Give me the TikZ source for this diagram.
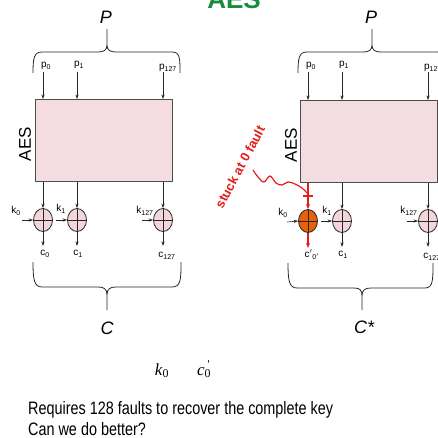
\documentclass[tikz,border=0pt]{standalone}
\usepackage{fontspec}
\setmainfont{Liberation Sans}
\newfontfamily\tms{Liberation Serif}
\newfontfamily\narrowsans[FakeStretch=0.8]{Liberation Sans}
\usetikzlibrary{shapes.geometric,arrows.meta}
\definecolor{boxpink}{RGB}{243,221,225}
\definecolor{xpink}{RGB}{242,214,219}
\definecolor{xorange}{RGB}{232,96,12}
\definecolor{fred}{RGB}{226,30,26}
\definecolor{tgreen}{RGB}{24,140,58}
\tikzset{
  arr/.style={-{Stealth[length=4.5pt,width=3.2pt]}, line width=0.6pt, draw=black!85},
  rarr/.style={-{Stealth[length=5pt,width=4pt]}, line width=1.4pt, draw=fred},
  xorc/.style={draw=black!85, ellipse, minimum width=19pt, minimum height=23pt, inner sep=0pt, fill=xpink, line width=0.8pt},
  lbl/.style={font=\fontsize{10}{12}\selectfont, inner sep=0pt},
  aesbox/.style={draw=black!70, fill=boxpink, line width=0.8pt, inner sep=0pt, minimum width=137pt, minimum height=82pt, anchor=north west},
  brace/.style={draw=black!85, line width=0.8pt},
  biglbl/.style={font=\itshape\fontsize{18}{20}\selectfont, inner sep=0pt},
  aeslbl/.style={font=\fontsize{17}{19}\selectfont, rotate=90, inner sep=0pt},
  bottomtxt/.style={inner sep=0pt, anchor=base west, font=\narrowsans\fontsize{18}{20}\selectfont},
}
\newcommand\xorcross[1]{\draw[line width=0.7pt, black!85] (#1.north) -- (#1.south) (#1.west) -- (#1.east);}
\begin{document}
\begin{tikzpicture}[x=1pt,y=-1pt]
\useasboundingbox (0,0) rectangle (438,437);
\clip (0,0) rectangle (438,437);
% title
\node[font=\bfseries\fontsize{26}{26}\selectfont, text=tgreen, anchor=base, inner sep=0pt] (title) at (234,8) {AES};

% ================= LEFT =================
\node[biglbl] (PL) at (106,17) {P};
\draw[brace] (33,73) .. controls (33,58) and (34,52) .. (42,52) -- (98,52)
  .. controls (104,52) and (107,50) .. (107,45) -- (107,29)
  (107,45) .. controls (107,50) and (110,52) .. (116,52) -- (172,52)
  .. controls (180,52) and (180,58) .. (180,73);
\node[lbl] (p0L) at (46,66) {p\textsubscript{0}};
\node[lbl] (p1L) at (79,65) {p\textsubscript{1}};
\node[lbl] (p127L) at (168,68) {p\textsubscript{127}};
\node[aesbox] (boxL) at (35,99) {};
\node[aeslbl] (aesL) at (25,144) {AES};
\node[xorc] (xL0) at (43,220) {};
\node[xorc] (xL1) at (77,220) {};
\node[xorc] (xL127) at (163,220) {};
\xorcross{xL0}\xorcross{xL1}\xorcross{xL127}
\draw[arr] (xL0 |- p0L.south) ++(0,2) -- (xL0 |- boxL.north);
\draw[arr] (xL1 |- p0L.south) ++(0,2) -- (xL1 |- boxL.north);
\draw[arr] (xL127 |- p0L.south) ++(0,2) -- (xL127 |- boxL.north);
\draw[arr] (xL0 |- boxL.south) -- (xL0.north);
\draw[arr] (xL1 |- boxL.south) -- (xL1.north);
\draw[arr] (xL127 |- boxL.south) -- (xL127.north);
\node[lbl] (k0L) at (16,211) {k\textsubscript{0}};
\node[lbl] (k1L) at (61,209) {k\textsubscript{1}};
\node[lbl] (k127L) at (145,211) {k\textsubscript{127}};
\coordinate (k0La) at (22,220);
\coordinate (k1La) at (56,220);
\coordinate (k127La) at (142,220);
\draw[arr] (k0La) -- (xL0.west);
\draw[arr] (k1La) -- (xL1.west);
\draw[arr] (k127La) -- (xL127.west);
\node[lbl] (c0L) at (45,254) {c\textsubscript{0}};
\node[lbl] (c1L) at (78,254) {c\textsubscript{1}};
\node[lbl] (c127L) at (167,256) {c\textsubscript{127}};
\draw[arr] (xL0.south) -- ++(0,14);
\draw[arr] (xL1.south) -- ++(0,14);
\draw[arr] (xL127.south) -- ++(0,14);
\draw[brace] (33,262) .. controls (33,279) and (34,287) .. (42,287) -- (98,287)
  .. controls (104,287) and (107,289) .. (107,295) -- (107,310)
  (107,295) .. controls (107,289) and (110,287) .. (116,287) -- (172,287)
  .. controls (181,287) and (181,279) .. (181,262);
\node[biglbl] (CL) at (107,328) {C};

% ================= RIGHT =================
\node[biglbl] (PR) at (371,17) {P};
\draw[brace] (298,73) .. controls (298,58) and (299,52) .. (307,52) -- (363,52)
  .. controls (369,52) and (372,50) .. (372,45) -- (372,29)
  (372,45) .. controls (372,50) and (375,52) .. (381,52) -- (437,52)
  .. controls (445,52) and (445,58) .. (445,73);
\node[lbl] (p0R) at (311,66) {p\textsubscript{0}};
\node[lbl] (p1R) at (344,65) {p\textsubscript{1}};
\node[lbl] (p127R) at (433,68) {p\textsubscript{127}};
\node[aesbox] (boxR) at (300,100) {};
\node[aeslbl] (aesR) at (291,145) {AES};
\node[xorc, fill=xorange] (xR0) at (308,221) {};
\node[xorc] (xR1) at (342,221) {};
\node[xorc] (xR127) at (428,221) {};
\xorcross{xR0}\xorcross{xR1}\xorcross{xR127}
\draw[arr] (xR0 |- p0R.south) ++(0,2) -- (xR0 |- boxR.north);
\draw[arr] (xR1 |- p0R.south) ++(0,2) -- (xR1 |- boxR.north);
\draw[arr] (xR127 |- p0R.south) ++(0,2) -- (xR127 |- boxR.north);
\coordinate (tR) at (308,196);
\draw[rarr] (xR0 |- boxR.south) -- (xR0.north);
\draw[line width=1.4pt, fred] (tR) ++(-5,0) -- ++(10,0);
\draw[arr] (xR1 |- boxR.south) -- (xR1.north);
\draw[arr] (xR127 |- boxR.south) -- (xR127.north);
\draw[line width=1.2pt, fred] plot[smooth, tension=0.6] coordinates {(253,170) (258,177) (264,182) (270,176) (276,183) (282,185) (288,182) (295,184) (302,188) (307,193)};
\node[rotate=62, text=fred, font=\bfseries\fontsize{13}{15}\selectfont, inner sep=0pt] (fault) at (240,167) {stuck at 0 fault};
\node[lbl] (k0R) at (283,213) {k\textsubscript{0}};
\node[lbl] (k1R) at (327,211) {k\textsubscript{1}};
\node[lbl] (k127R) at (409,211) {k\textsubscript{127}};
\coordinate (k0Ra) at (287,222);
\coordinate (k1Ra) at (321,221);
\coordinate (k127Ra) at (407,221);
\draw[arr] (k0Ra) -- (xR0.west);
\draw[arr] (k1Ra) -- (xR1.west);
\draw[arr] (k127Ra) -- (xR127.west);
\node[lbl] (c0R) at (312,255) {c$'$\textsubscript{0$'$}};
\node[lbl] (c1R) at (343,255) {c\textsubscript{1}};
\node[lbl] (c127R) at (432,257) {c\textsubscript{127}};
\draw[rarr] (xR0.south) -- ++(0,15);
\draw[arr] (xR1.south) -- ++(0,14);
\draw[arr] (xR127.south) -- ++(0,14);
\draw[brace] (288,263) .. controls (288,280) and (289,288) .. (297,288) -- (354,288)
  .. controls (360,288) and (362,290) .. (362,296) -- (362,310)
  (362,296) .. controls (362,290) and (365,288) .. (371,288) -- (425,288)
  .. controls (433,288) and (433,280) .. (433,263);
\node[biglbl] (CR) at (364,327) {C*};

% ================= bottom text =================
\node[inner sep=0pt, font=\tms\fontsize{17}{19}\selectfont, anchor=base] (kk) at (162,375) {\textit{k}\textsubscript{0}};
\node[inner sep=0pt, font=\tms\fontsize{17}{19}\selectfont, anchor=base] (cc) at (204,375) {\textit{c}\rlap{\textsuperscript{\,\textit{'}}}\textsubscript{0}};
\node[bottomtxt] (t1) at (28,414) {Requires 128 faults to recover the complete key};
\node[bottomtxt] (t2) at (28,435) {Can we do better?};
\end{tikzpicture}
\end{document}
